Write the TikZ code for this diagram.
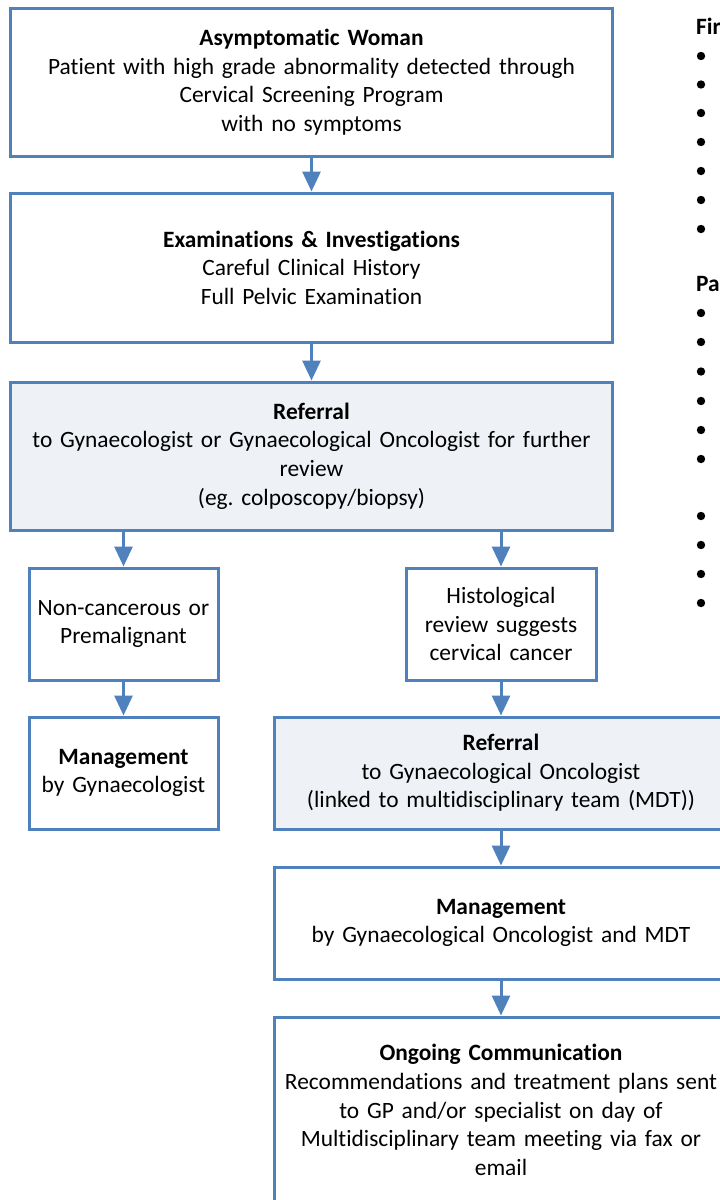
\documentclass[tikz,border=0pt]{standalone}
\usepackage{fontspec}
\setmainfont{Carlito}[Ligatures=NoCommon]
\usepackage{xcolor}
\usetikzlibrary{arrows.meta, positioning}

\definecolor{flowblue}{RGB}{79,129,189}
\definecolor{flowfill}{RGB}{238,241,246}
\frenchspacing

\begin{document}
\begin{tikzpicture}[x=1pt, y=-1pt,
    every node/.style={font=\fontsize{23.4}{28.6}\selectfont},
    box/.style={draw=flowblue, line width=3pt, rectangle, align=center, inner sep=0pt},
    shadedbox/.style={box, fill=flowfill},
    flow/.style={draw=flowblue, line width=3pt, -{Triangle[width=18pt, length=20pt]}, color=flowblue}
]
    \useasboundingbox (0, 0) rectangle (720, 1200);
    \fill[white] (0, 0) rectangle (720, 1200);
    \clip (0, 0) rectangle (720, 1200);

    % left column, full width
    \node[box, minimum width=602pt, minimum height=148pt, text width=590pt] (woman) at (311.5, 82)
        {\textbf{Asymptomatic Woman}\\Patient with high grade abnormality detected through\\Cervical Screening Program\\with no symptoms};
    \node[box, minimum width=602pt, minimum height=149pt, text width=590pt] (exam) at (311.5, 267.5)
        {\textbf{Examinations \& Investigations}\\Careful Clinical History\\Full Pelvic Examination};
    \node[shadedbox, minimum width=602pt, minimum height=148pt, text width=590pt] (referral) at (311.5, 456)
        {\textbf{Referral}\\to Gynaecologist or Gynaecological Oncologist for further\\review\\(eg. colposcopy/biopsy)};

    % two branches
    \node[box, minimum width=189pt, minimum height=112pt, text width=185pt] (benign) at (123.5, 624)
        {Non-cancerous or\\Premalignant};
    \node[box, minimum width=189pt, minimum height=112pt, text width=185pt] (gynmgmt) at (123.5, 773)
        {\textbf{Management}\\by Gynaecologist};
    \node[box, minimum width=190pt, minimum height=112pt, text width=185pt] (histo) at (501, 624)
        {Histological\\review suggests\\cervical cancer};
    \node[shadedbox, minimum width=454pt, minimum height=112pt, text width=450pt] (oncref) at (501, 773)
        {\textbf{Referral}\\to Gynaecological Oncologist\\(linked to multidisciplinary team (MDT))};
    \node[box, minimum width=454pt, minimum height=112pt, text width=450pt] (oncmgmt) at (501, 923)
        {\textbf{Management}\\by Gynaecological Oncologist and MDT};
    \node[box, minimum width=454pt, minimum height=186pt, text width=450pt] (comm) at (501, 1110)
        {\textbf{Ongoing Communication}\\Recommendations and treatment plans sent\\to GP and/or specialist on day of\\Multidisciplinary team meeting via fax or\\email};

    % connectors
    \draw[flow] (woman) -- (exam);
    \draw[flow] (exam) -- (referral);
    \draw[flow] (benign.north |- referral.south) -- (benign);
    \draw[flow] (histo.north |- referral.south) -- (histo);
    \draw[flow] (benign) -- (gynmgmt);
    \draw[flow] (histo) -- (oncref);
    \draw[flow] (oncref) -- (oncmgmt);
    \draw[flow] (oncmgmt) -- (comm);

    % side lists
    \node[anchor=west, inner sep=0pt] (first) at (696, 26) {\textbf{Fir}};
    \foreach \y in {56, 84.5, 113, 142, 171, 200, 229}
        \fill (701, \y) circle (4.2pt);
    \node[anchor=west, inner sep=0pt] (pat) at (696, 284) {\textbf{Pa}};
    \foreach \y in {313, 342, 371.5, 401, 430, 459, 516, 545, 574, 603}
        \fill (701, \y) circle (4.2pt);
\end{tikzpicture}
\end{document}
